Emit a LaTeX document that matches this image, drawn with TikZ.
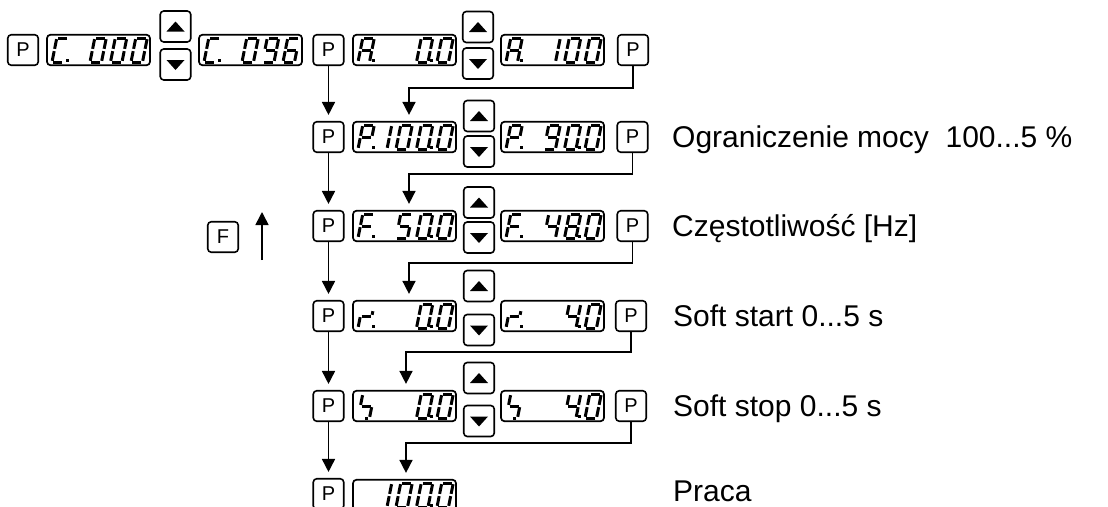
\documentclass[tikz,border=0pt]{standalone}
\usepackage{fontspec}
\setmainfont{Liberation Sans}
\usetikzlibrary{arrows.meta}
% seven-segment glyphs: points q1 (top-left) q2 (top-right) q3 (mid-left) q4 (mid-right) q5 (bottom-left) q6 (bottom-right)
\def\sgZero{1/2,2/4,4/6,6/5,5/3,3/1}
\def\sgOne{2/4,4/6}
\def\sgFour{1/3,3/4,2/4,4/6}
\def\sgFive{2/1,1/3,3/4,4/6,6/5}
\def\sgSix{2/1,1/3,3/5,5/6,6/4,4/3}
\def\sgEight{1/2,2/4,4/6,6/5,5/3,3/1,3/4}
\def\sgNine{1/2,2/4,4/6,6/5,1/3,3/4}
\def\sgC{2/1,1/3,3/5,5/6}
\def\sgA{1/2,2/4,4/6,3/5,1/3,3/4}
\def\sgP{1/2,2/4,1/3,3/4,3/5}
\def\sgF{1/2,1/3,3/4,3/5}
\def\sgR{3/5,3/4,4/7}
\def\sgS{1/3,3/4,4/6,6/8}
\newcommand\sevenglyph[3]{%
  \begin{scope}[shift={(#1,#2)},xslant=0.2]
    \coordinate (q1) at (0,-24); \coordinate (q2) at (11.5,-24);
    \coordinate (q3) at (0,-12); \coordinate (q4) at (11.5,-12);
    \coordinate (q5) at (0,0);   \coordinate (q6) at (11.5,0);
    \coordinate (q7) at (11.5,-18); \coordinate (q8) at (6,0);
    \foreach \u/\v in #3 {\draw[segline] (q\u) -- (q\v);}
  \end{scope}}
\newcommand\gl[2]{\sevenglyph{#1}{0}{#2}}
\newcommand\dt[1]{\fill (#1,0) rectangle ++(3,-3);}
\newcommand\dcont[3]{\begin{scope}[shift={(#1-52.5,#2+12)}]#3\end{scope}}
% up / down buttons
\newcommand\upbtn[3]{\node[btn] (#1) at (#2,#3) {};
  \fill ([shift={(-9,5)}]#1.center) -- ([shift={(9,5)}]#1.center) -- ([shift={(0,-5)}]#1.center) -- cycle;}
\newcommand\dnbtn[3]{\node[btn] (#1) at (#2,#3) {};
  \fill ([shift={(-9,-4.5)}]#1.center) -- ([shift={(9,-4.5)}]#1.center) -- ([shift={(0,5.5)}]#1.center) -- cycle;}
\begin{document}
\begin{tikzpicture}[x=1pt,y=-1pt,
  pkey/.style={draw, line width=1.6pt, rounded corners=3.5pt, minimum width=30.5pt, minimum height=30.5pt, inner sep=0pt, font=\fontsize{20}{20}\selectfont},
  disp/.style={draw, line width=1.7pt, rounded corners=3.5pt, minimum width=103pt, minimum height=30.5pt, inner sep=0pt},
  btn/.style={draw, line width=1.6pt, rounded corners=3.5pt, minimum width=30.5pt, minimum height=31pt, inner sep=0pt},
  segline/.style={line width=3pt, shorten <=1.2pt, shorten >=1.2pt},
  arr/.style={line width=1.6pt, -{Triangle[length=13pt,width=13pt]}, shorten >=6pt},
  lbl/.style={anchor=base west, inner sep=0pt, font=\fontsize{30}{36}\selectfont}
]
\useasboundingbox (0,0) rectangle (1108,506);
\fill[white] (0,0) rectangle (1108,506);
\clip (0,0) rectangle (1108,506);

% ---------- row 1 ----------
\node[pkey] (r1a) at (23,50) {P};
\node[disp] (r1c) at (98.5,50) {};
\dcont{98.5}{50}{\gl{6}{\sgC}\dt{19.5}\gl{44}{\sgZero}\gl{64.5}{\sgZero}\gl{85}{\sgZero}}
\upbtn{r1u}{175.5}{26.5}
\dnbtn{r1v}{175.5}{64.5}
\node[disp] (r1d) at (250.5,50) {};
\dcont{250.5}{50}{\gl{6}{\sgC}\dt{19.5}\gl{44}{\sgZero}\gl{64.5}{\sgNine}\gl{85}{\sgSix}}
\node[pkey] (r1p) at (328.5,50) {P};
\node[disp] (r1e) at (404.5,50) {};
\dcont{404.5}{50}{\gl{6}{\sgA}\dt{19.5}\gl{64.5}{\sgZero}\dt{77.5}\gl{85}{\sgZero}}
\upbtn{r1w}{478}{27}
\dnbtn{r1x}{478}{63.5}
\node[disp] (r1f) at (552.5,50) {};
\dcont{552.5}{50}{\gl{6}{\sgA}\dt{19.5}\gl{44}{\sgOne}\gl{64.5}{\sgZero}\gl{85}{\sgZero}}
\node[pkey] (r1q) at (633,50) {P};

% ---------- row 2 ----------
\node[pkey] (r2p) at (328.5,137) {P};
\node[disp] (r2c) at (404.5,137) {};
\dcont{404.5}{137}{\gl{6}{\sgP}\dt{19.5}\gl{23.5}{\sgOne}\gl{44}{\sgZero}\gl{64.5}{\sgZero}\dt{77.5}\gl{85}{\sgZero}}
\upbtn{r2u}{479}{116}
\dnbtn{r2v}{479}{151.5}
\node[disp] (r2d) at (552.5,137) {};
\dcont{552.5}{137}{\gl{6}{\sgP}\dt{19.5}\gl{44}{\sgNine}\gl{64.5}{\sgZero}\dt{77.5}\gl{85}{\sgZero}}
\node[pkey] (r2q) at (632.5,137) {P};
\node[lbl] (t2) at (672,147) {Ograniczenie mocy\ \ 100...5 \%};

% ---------- row 3 ----------
\node[pkey] (r3p) at (328.5,226) {P};
\node[disp] (r3c) at (404.5,226) {};
\dcont{404.5}{226}{\gl{6}{\sgF}\dt{19.5}\gl{44}{\sgFive}\gl{64.5}{\sgZero}\dt{77.5}\gl{85}{\sgZero}}
\upbtn{r3u}{479}{202.5}
\dnbtn{r3v}{479}{237.5}
\node[disp] (r3d) at (552.5,226) {};
\dcont{552.5}{226}{\gl{6}{\sgF}\dt{19.5}\gl{44}{\sgFour}\gl{64.5}{\sgEight}\dt{77.5}\gl{85}{\sgZero}}
\node[pkey] (r3q) at (632.5,226) {P};
\node[lbl] (t3) at (672,236) {Częstotliwość [Hz]};

% F key with arrow
\node[pkey] (fk) at (223,237) {F};
\coordinate (fa) at (262,260);
\coordinate (fb) at (262,206);
\draw[arr] (fa) -- (fb);

% ---------- row 4 ----------
\node[pkey] (r4p) at (328.5,316) {P};
\node[disp] (r4c) at (404.5,316) {};
\dcont{404.5}{316}{\gl{6}{\sgR}\dt{19.5}\gl{64.5}{\sgZero}\dt{77.5}\gl{85}{\sgZero}}
\upbtn{r4u}{479}{286}
\dnbtn{r4v}{479}{330}
\node[disp] (r4d) at (552.5,316) {};
\dcont{552.5}{316}{\gl{6}{\sgR}\dt{19.5}\gl{64.5}{\sgFour}\dt{77.5}\gl{85}{\sgZero}}
\node[pkey] (r4q) at (631,316) {P};
\node[lbl] (t4) at (673,326) {Soft start 0...5 s};

% ---------- row 5 ----------
\node[pkey] (r5p) at (328.5,406) {P};
\node[disp] (r5c) at (404.5,406) {};
\dcont{404.5}{406}{\gl{6}{\sgS}\gl{64.5}{\sgZero}\dt{77.5}\gl{85}{\sgZero}}
\upbtn{r5u}{479}{378}
\dnbtn{r5v}{479}{421}
\node[disp] (r5d) at (552.5,406) {};
\dcont{552.5}{406}{\gl{6}{\sgS}\gl{64.5}{\sgFour}\dt{77.5}\gl{85}{\sgZero}}
\node[pkey] (r5q) at (631,406) {P};
\node[lbl] (t5) at (673,416) {Soft stop 0...5 s};

% ---------- row 6 ----------
\node[pkey] (r6p) at (328.5,494) {P};
\node[disp] (r6c) at (404.5,495) {};
\dcont{404.5}{495}{\gl{23.5}{\sgOne}\gl{44}{\sgZero}\gl{64.5}{\sgZero}\dt{77.5}\gl{85}{\sgZero}}
\node[lbl] (t6) at (673,501.5) {Praca};

% ---------- connectors ----------
\draw[arr] (r1p) -- (r2p);
\draw[arr] (r2p) -- (r3p);
\draw[arr] (r3p) -- (r4p);
\draw[arr] (r4p) -- (r5p);
\draw[arr] (r5p) -- (r6p);

\coordinate (k1) at (409,88);
\coordinate (k2) at (409,174);
\coordinate (k3) at (409,263);
\coordinate (k4) at (406,352);
\coordinate (k5) at (406,443);
\draw[arr] (r1q.south) |- (k1) -- (k1 |- r2c.north);
\draw[arr] (r2q.south) |- (k2) -- (k2 |- r3c.north);
\draw[arr] (r3q.south) |- (k3) -- (k3 |- r4c.north);
\draw[arr] (r4q.south) |- (k4) -- (k4 |- r5c.north);
\draw[arr] (r5q.south) |- (k5) -- (k5 |- r6c.north);
\end{tikzpicture}
\end{document}
